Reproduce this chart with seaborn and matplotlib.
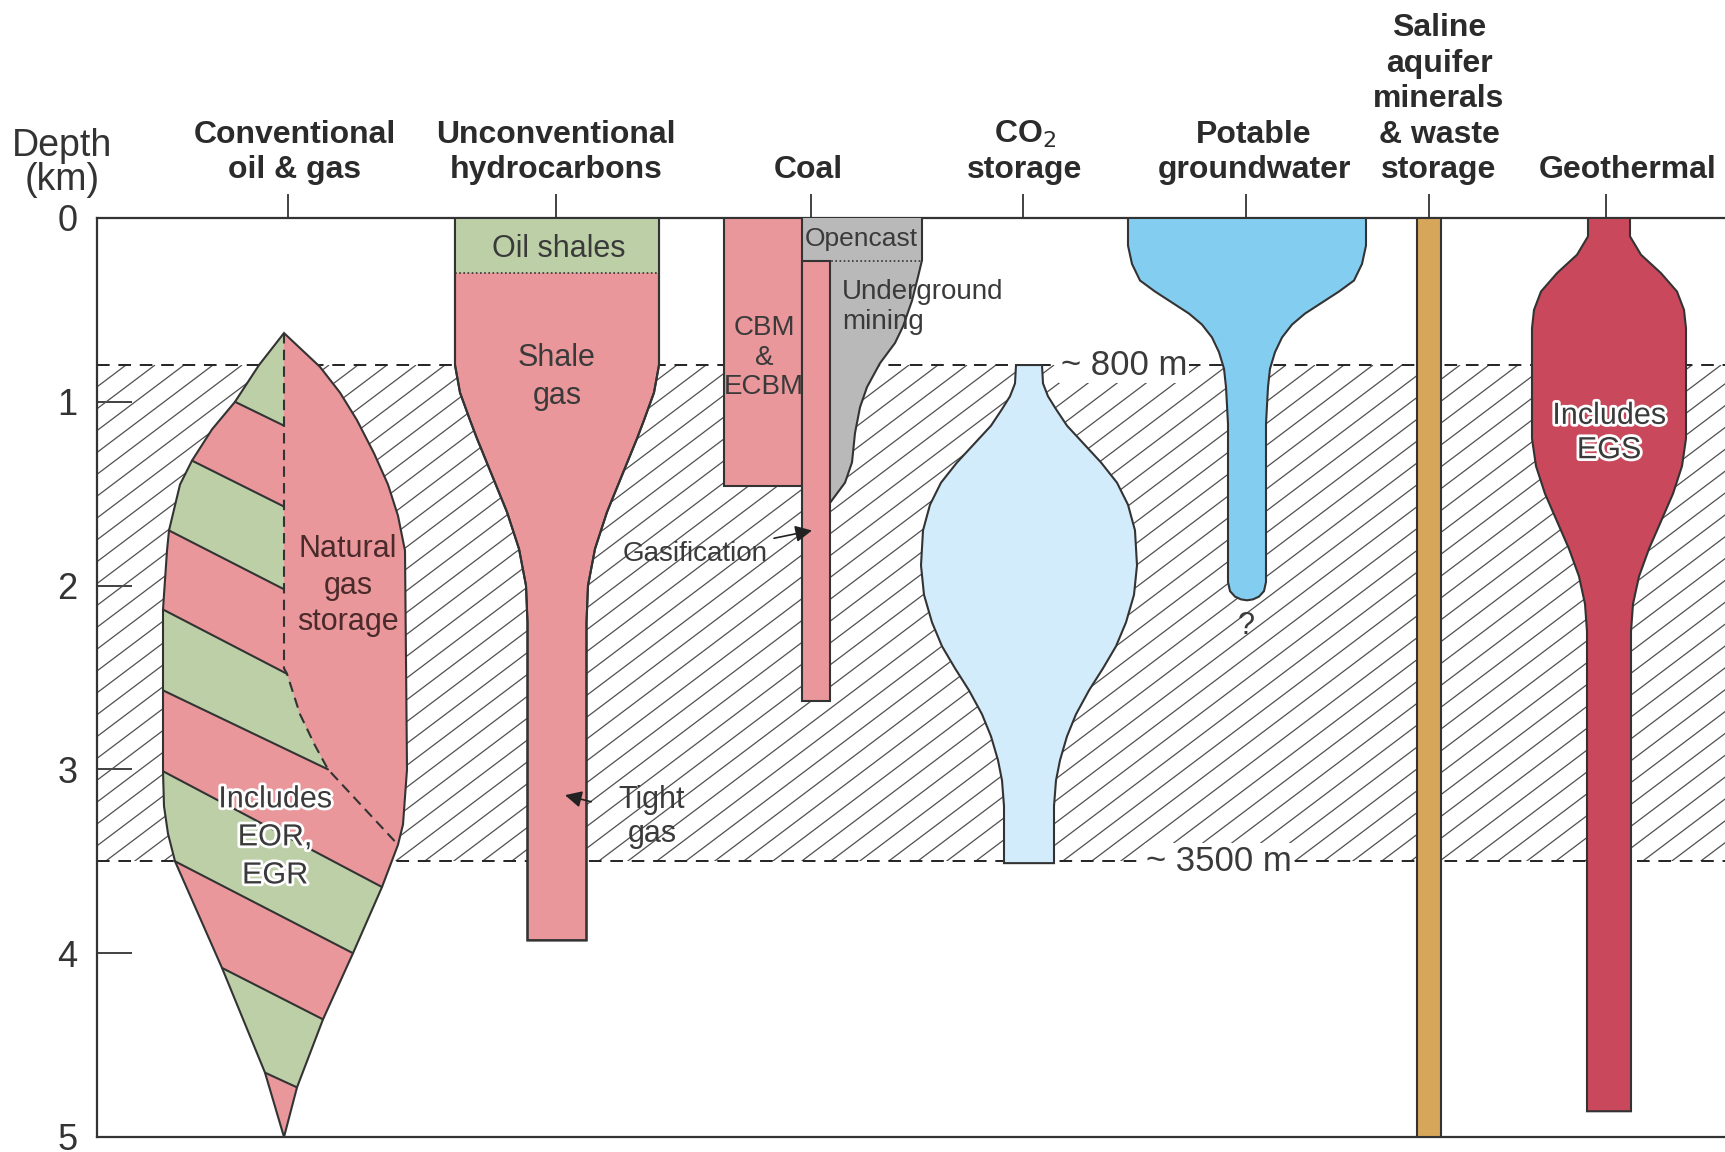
import numpy as np
import pandas as pd
import seaborn as sns
import matplotlib.pyplot as plt
from matplotlib.patches import Polygon, Rectangle
from matplotlib.collections import LineCollection
import matplotlib.patheffects as pe

sns.set_theme(style="white")
plt.rcParams['font.family'] = ['Liberation Sans', 'DejaVu Sans']

# column positions (x in picture pixels) and header labels
col_x = [288, 556, 811, 1023, 1246, 1429, 1606]
headers = ["Conventional\noil & gas", "Unconventional\nhydrocarbons", "Coal",
           "CO$_2$\nstorage", "Potable\ngroundwater",
           "Saline\naquifer\nminerals\n& waste\nstorage", "Geothermal"]
header_x = [295, 556, 808, 1025, 1254, 1439, 1628]
depth_ticks = [0, 1, 2, 3, 4, 5]
band = [0.8, 3.5]  # ~800 m and ~3500 m

# conventional oil & gas lens (left / right edge)
lens_dl = [0.626, 0.80, 1.00, 1.15, 1.32, 1.45, 1.70, 1.81, 2.13, 2.57, 3.01, 3.20, 3.35, 3.50, 4.08, 4.65, 5.0]
lens_xl = [284, 259, 235, 212, 192, 180, 169, 167, 163, 163, 163, 164, 168, 175, 222, 265, 284]
lens_dr = [0.626, 0.81, 0.95, 1.10, 1.28, 1.45, 1.62, 1.81, 3.00, 3.30, 3.41, 3.64, 4.00, 4.36, 4.73, 5.0]
lens_xr = [284, 320, 340, 357, 374, 388, 398, 405, 407, 403, 398, 382, 353, 323, 297, 284]
# stripe boundaries (xL, dL, xR, dR)
stripes = [(235, 1.00, 284, 1.13), (192, 1.32, 284, 1.57), (169, 1.70, 284, 2.02),
           (163, 2.13, 287, 2.48), (163, 2.57, 328, 3.00), (163, 3.01, 382, 3.64),
           (175, 3.50, 353, 4.00), (222, 4.08, 323, 4.36), (265, 4.65, 297, 4.73)]
divider_x = [284, 284, 287, 300, 315, 328, 398]
divider_d = [0.626, 2.45, 2.48, 2.70, 2.87, 3.00, 3.41]

# unconventional hydrocarbons profile (depth, half width)
unc_d = [0, 0.80, 0.95, 1.10, 1.20, 1.40, 1.60, 1.80, 2.00, 2.20, 3.93]
unc_w = [102, 102, 97, 87, 80, 65, 50, 38, 31, 29.5, 29.5]
oil_shale_base = 0.30

# coal
cbm = (724, 802, 0.0, 1.46)
gasif = (802, 830, 0.234, 2.63)
mine_x = [802, 922, 922, 918, 912, 903, 895, 880, 867, 860, 855, 852, 845, 830, 830, 802]
mine_d = [0, 0, 0.23, 0.32, 0.45, 0.59, 0.68, 0.79, 0.92, 1.03, 1.17, 1.33, 1.44, 1.55, 0.234, 0.234]

# CO2 storage
co2_c = 1029
co2_d = [0.80, 0.90, 0.97, 1.04, 1.13, 1.23, 1.33, 1.44, 1.56, 1.70, 1.89, 2.05, 2.20, 2.33, 2.45, 2.57, 2.70, 2.82, 2.95, 3.06, 3.20, 3.51]
co2_w = [13, 14, 19, 27, 38, 55, 72, 88, 99, 106, 108, 105, 97, 87, 74, 60, 47, 38, 31, 27, 25, 25]

# potable groundwater
pot_c = 1247
pot_d = [0, 0.15, 0.25, 0.34, 0.40, 0.46, 0.52, 0.58, 0.65, 0.73, 0.82, 0.92, 1.12, 1.98, 2.03, 2.06, 2.075, 2.08]
pot_w = [119, 119, 115, 107, 92, 75, 58, 45, 35, 28, 23, 21, 19, 19, 17, 12, 6, 0]

# saline aquifer bar
saline = (1417, 1441, 0, 5)

# geothermal
geo_c = 1609
geo_d = [0, 0.10, 0.20, 0.30, 0.40, 0.50, 0.60, 1.20, 1.35, 1.50, 1.65, 1.80, 1.95, 2.10, 2.25, 4.86]
geo_w = [21, 21, 32, 52, 68, 75, 77, 77, 73, 64, 52, 40, 30, 24, 22, 22]

pink = '#e9979b'
green = '#bccfa6'
grey = '#b9b9b9'
blue = '#83cdf1'
lightblue = '#d3ecfb'
crimson = '#c9485b'
tan = '#d6a75a'
ink = '#333333'

fig = plt.figure(figsize=(17.25, 11.52), dpi=100)
ax = fig.add_axes([97 / 1725, 1 - 1137 / 1152, (1725 - 97) / 1725, (1137 - 218) / 1152])
ax.set_xlim(97, 1725)
ax.set_ylim(5, 0)
for s in ['left', 'top', 'bottom']:
    ax.spines[s].set_color(ink)
    ax.spines[s].set_linewidth(1.6)
ax.spines['right'].set_visible(False)

ax.set_yticks(depth_ticks)
ax.set_yticklabels([str(t) for t in depth_ticks])
ax.tick_params(axis='y', direction='in', length=25, width=1.3, pad=14,
               labelsize=26, labelcolor=ink, color=ink, left=True)
ax.set_xticks(col_x)
ax.tick_params(axis='x', bottom=False, top=True, labelbottom=False, labeltop=False,
               direction='out', length=17, width=1.3, color=ink)

# hatched band between 800 m and 3500 m
px_per_km = 183.8
step = 29
run = (band[1] - band[0]) * px_per_km / np.tan(np.radians(37))
x0 = np.arange(97 - run - step, 1725 + step, step)
segs = [[(x, band[1]), (x + run, band[0])] for x in x0]
clip = Rectangle((97, band[0]), 1725 - 97, band[1] - band[0], transform=ax.transData)
hatch = LineCollection(segs, colors='#505050', linewidths=0.9, zorder=1)
ax.add_collection(hatch)
hatch.set_clip_path(clip)
lines_df = pd.DataFrame({"x": [97, 1725, 97, 1725], "d": [band[0], band[0], band[1], band[1]],
                         "lvl": ["a", "a", "b", "b"]})
for lvl, g in lines_df.groupby("lvl"):
    ax.plot(g["x"], g["d"], color='#222222', lw=1.4, ls=(0, (6.5, 4.5)), zorder=2)


def add_poly(xs, ds, fc, ec=ink, lw=1.5, z=3):
    p = Polygon(np.column_stack([xs, ds]), closed=True, fc=fc, ec=ec, lw=lw, zorder=z)
    ax.add_patch(p)
    return p


def profile(c, d, w):
    d = np.asarray(d, float)
    w = np.asarray(w, float)
    xs = np.concatenate([c - w, (c + w)[::-1]])
    ds = np.concatenate([d, d[::-1]])
    return xs, ds


# conventional oil & gas
lx = np.concatenate([lens_xl, lens_xr[::-1]])
ld = np.concatenate([lens_dl, lens_dr[::-1]])
lens = add_poly(lx, ld, pink, ec='none')


def ext(s, xe):
    xl, dl, xr, dr = s
    k = (dr - dl) / (xr - xl)
    return (xe, dl + k * (xe - xl))


bands = []
bands.append([(120, 0.5), (284, 0.5), (284, stripes[0][3]), (stripes[0][0], stripes[0][1]), ext(stripes[0], 120)])
sa, sb = stripes[1], stripes[2]
bands.append([ext(sa, 120), (sa[2], sa[3]), (sb[2], sb[3]), ext(sb, 120)])
sa, sb = stripes[3], stripes[4]
bands.append([ext(sa, 120), (sa[2], sa[3])] + list(zip(divider_x[3:5], divider_d[3:5])) +
             [(sb[2], sb[3]), ext(sb, 120)])
for a, b in [(5, 6), (7, 8)]:
    sa, sb = stripes[a], stripes[b]
    bands.append([ext(sa, 120), ext(sa, 450), ext(sb, 450), ext(sb, 120)])
for bnd in bands:
    gp = Polygon(bnd, closed=True, fc=green, ec='none', zorder=3)
    ax.add_patch(gp)
    gp.set_clip_path(lens)
for s in stripes:
    ax.plot([s[0], s[2]], [s[1], s[3]], color=ink, lw=1.5, zorder=4)
ax.plot(divider_x, divider_d, color=ink, lw=1.5, ls=(0, (5, 3)), zorder=4)
add_poly(lx, ld, 'none', z=4)

# unconventional
ux, ud = profile(col_x[1] + 1, unc_d, unc_w)
add_poly(ux, ud, pink)
w0 = unc_w[0]
add_poly([557 - w0, 557 + w0, 557 + w0, 557 - w0], [0, 0, oil_shale_base, oil_shale_base], green, ec='none')
ax.plot([557 - w0, 557 + w0], [oil_shale_base] * 2, color=ink, lw=1.2, ls=(0, (1, 1.5)), zorder=4)
add_poly(ux, ud, 'none', z=4)

# coal
add_poly(mine_x, mine_d, grey, ec='none')
ax.plot(mine_x[1:14], mine_d[1:14], color=ink, lw=1.5, zorder=4)
add_poly([cbm[0], cbm[1], cbm[1], cbm[0]], [cbm[2], cbm[2], cbm[3], cbm[3]], pink)
add_poly([gasif[0], gasif[1], gasif[1], gasif[0]], [gasif[2], gasif[2], gasif[3], gasif[3]], pink)
ax.plot([gasif[0], mine_x[1]], [gasif[2]] * 2, color=ink, lw=1.2, ls=(0, (1, 1.5)), zorder=4)

# CO2 storage
cx, cd = profile(co2_c, co2_d, co2_w)
add_poly(cx, cd, lightblue)

# potable groundwater
px_, pd_ = profile(pot_c, pot_d, pot_w)
add_poly(px_, pd_, blue)

# saline
add_poly([saline[0], saline[1], saline[1], saline[0]], [saline[2], saline[2], saline[3], saline[3]], tan)

# geothermal
gx, gd = profile(geo_c, geo_d, geo_w)
add_poly(gx, gd, crimson)

# headers
for hx, lab in zip(header_x, headers):
    ax.text(hx, -0.217, lab, ha='center', va='baseline', fontsize=23, fontweight='bold',
            color='#2b2b2b', linespacing=1.24, clip_on=False)
ax.text(62, -0.155, "Depth\n(km)", ha='center', va='baseline', fontsize=27, color=ink,
        linespacing=0.92, clip_on=False)

txt = dict(color='#3a3a3a', zorder=6, ha='center', va='center')
ax.text(559, 0.17, "Oil shales", fontsize=22, **txt)
ax.text(557, 0.865, "Shale\ngas", fontsize=22, linespacing=1.31, **txt)
ax.text(348, 2.0, "Natural\ngas\nstorage", fontsize=22, linespacing=1.30,
        color='#4a2a2a', zorder=6, ha='center', va='center')
ax.text(275, 3.37, "Includes\nEOR,\nEGR", fontsize=22, linespacing=1.35,
        path_effects=[pe.withStroke(linewidth=4, foreground='white')], **txt)
ax.text(764, 0.76, "CBM\n&\nECBM", fontsize=20, linespacing=1.18, **txt)
ax.text(861, 0.115, "Opencast", fontsize=19, **txt)
ax.text(842, 0.486, "Underground\nmining", fontsize=20, linespacing=1.2,
        color='#3a3a3a', zorder=6, ha='left', va='center')
ax.text(1609, 1.17, "Includes\nEGS", fontsize=22, linespacing=1.19,
        path_effects=[pe.withStroke(linewidth=4, foreground='white')], **txt)
ax.text(1246, 2.22, "?", fontsize=22, **txt)
ax.text(1124, band[0], "~ 800 m", fontsize=25, bbox=dict(fc='white', ec='none', pad=1), **txt)
ax.text(1219, band[1], "~ 3500 m", fontsize=25, bbox=dict(fc='white', ec='none', pad=1), **txt)

arrow = dict(arrowstyle='-|>', color='#222222', lw=1.2, mutation_scale=25)
ax.annotate("Tight\ngas", xy=(565, 3.14), xytext=(652, 3.26), fontsize=22, color='#3a3a3a',
            ha='center', va='center', linespacing=1.18, zorder=6,
            arrowprops=dict(arrow, shrinkA=18, shrinkB=0))
ax.annotate("Gasification", xy=(812, 1.70), xytext=(768, 1.83), fontsize=20, color='#3a3a3a',
            ha='right', va='center', zorder=6,
            arrowprops=dict(arrow, shrinkA=2, shrinkB=0))

fig.savefig("out.png", dpi=100)
